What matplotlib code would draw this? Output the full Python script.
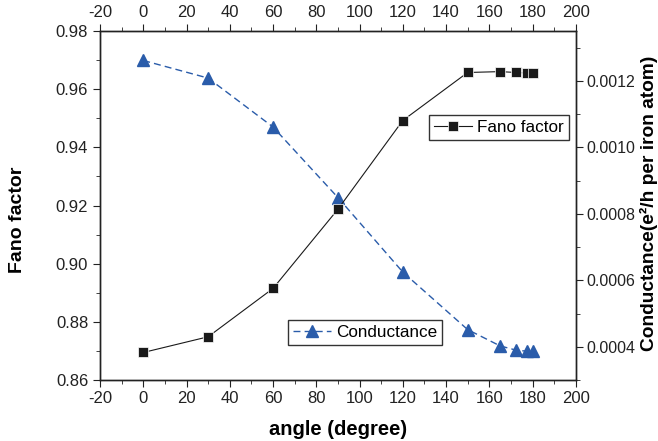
import numpy as np
import matplotlib
matplotlib.use("Agg")
import matplotlib.pyplot as plt
from matplotlib.ticker import MultipleLocator, FormatStrFormatter

plt.rcParams['font.family'] = ['Liberation Sans', 'DejaVu Sans']
plt.rcParams['axes.unicode_minus'] = False

# data
angle = [0, 30, 60, 90, 120, 150, 165, 172.5, 177.5, 180]
fano = [0.8695, 0.8749, 0.8915, 0.9187, 0.9492, 0.9657, 0.9660, 0.9657, 0.9655, 0.9655]
conductance = [0.001261, 0.001208, 0.001061, 0.000849, 0.000625,
               0.000452, 0.000403, 0.000390, 0.000387, 0.000387]

blue = '#2a5caa'

fig = plt.figure(figsize=(6.58, 4.41), dpi=100)
ax = fig.add_axes([0.152, 0.138, 0.723, 0.792])
ax2 = ax.twinx()

# conductance (right axis)
ax2.plot(angle, conductance, linestyle=(0, (5, 3)), color=blue, lw=1,
         marker='^', ms=8.5, mfc=blue, mec=blue, label='Conductance')
# fano factor (left axis)
ax.plot(angle, fano, '-', color='#1a1a1a', lw=0.8,
        marker='s', ms=7, mfc='#1a1a1a', mec='white', mew=0.5, label='Fano factor')

ax.set_zorder(ax2.get_zorder() + 1)
ax.patch.set_visible(False)

ax.set_xlim(-20, 200)
ax.set_ylim(0.86, 0.98)
ax2.set_ylim(0.0003, 0.00135)

ax.xaxis.set_major_locator(MultipleLocator(20))
ax.xaxis.set_minor_locator(MultipleLocator(10))
ax.yaxis.set_major_locator(MultipleLocator(0.02))
ax.yaxis.set_minor_locator(MultipleLocator(0.01))
ax.yaxis.set_major_formatter(FormatStrFormatter('%.2f'))
ax2.yaxis.set_major_locator(MultipleLocator(0.0002))
ax2.yaxis.set_minor_locator(MultipleLocator(0.0001))
ax2.yaxis.set_major_formatter(FormatStrFormatter('%.4f'))

for a in (ax, ax2):
    a.tick_params(which='both', direction='out', labelsize=12, color='#222222',
                  labelcolor='#222222')
    a.tick_params(which='major', length=5)
    a.tick_params(which='minor', length=3)
    for s in a.spines.values():
        s.set_linewidth(1)
        s.set_color('#222222')
ax.tick_params(which='both', top=True, labeltop=True)
ax.tick_params(axis='x', pad=3)
ax2.tick_params(labelsize=11.5, pad=3)

ax.set_xlabel('angle (degree)', fontsize=14.5, fontweight='bold')
ax.xaxis.set_label_coords(0.5, -0.113)
ax.set_ylabel('Fano factor', fontsize=14, fontweight='bold')
ax.yaxis.set_label_coords(-0.155, 0.458)
ax2.set_ylabel('Conductance(e\u00b2/h per iron atom)', fontsize=13.8,
               fontweight='bold')
ax2.yaxis.set_label_coords(1.136, 0.507)

ax.legend(loc='upper right', bbox_to_anchor=(0.985, 0.759), fancybox=False,
          edgecolor='#333333', framealpha=1, fontsize=12.3, borderaxespad=0,
          handlelength=2.2, borderpad=0.3, handletextpad=0.3)
ax2.legend(loc='lower left', bbox_to_anchor=(0.395, 0.1), fancybox=False,
           edgecolor='#333333', framealpha=1, fontsize=12.3, borderaxespad=0,
           handlelength=2.2, borderpad=0.3, handletextpad=0.3)

fig.savefig('out.png', dpi=100)
